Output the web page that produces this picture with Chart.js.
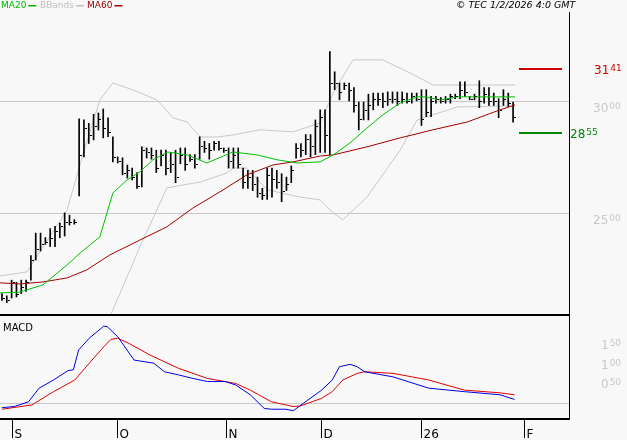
<!DOCTYPE html>
<html>
<head>
<meta charset="utf-8">
<script src="https://cdn.jsdelivr.net/npm/chart.js@4.4.1/dist/chart.umd.min.js"></script>
<style>
  body { margin: 0; background: #f8f8f8; }
  #wrap { position: relative; width: 627px; height: 440px; background: #f8f8f8; }
  canvas { position: absolute; left: 0; }
</style>
</head>
<body>
<div id="wrap">
  <canvas id="price" width="627" height="316" style="top:0"></canvas>
  <canvas id="macd" width="627" height="124" style="top:316px"></canvas>
</div>
<script>
// --- Data ---

// daily high / low / close, one entry per trading day
const highs = [21.4,21.3,22.0,21.9,22.0,22.0,23.1,24.1,24.1,23.9,
  24.3,24.4,24.55,25.0,24.9,24.7,29.2,29.15,29.0,29.4,
  29.46,29.64,29.24,28.4,27.5,27.46,27.14,27.0,26.8,27.95,
  27.9,27.9,27.8,27.8,27.8,27.7,27.8,27.9,27.9,27.6,
  27.6,28.4,28.2,28.1,28.2,28.2,27.9,27.9,27.9,27.9,
  27.0,26.9,26.9,26.6,26.1,27.0,27.0,26.9,26.75,26.6,
  27.1,28.1,28.1,28.5,28.5,29.15,29.6,29.6,32.2,31.3,
  30.8,30.8,30.8,30.6,29.95,29.95,30.3,30.35,30.35,30.35,
  30.4,30.4,30.4,30.4,30.35,30.35,30.35,30.5,30.5,30.2,
  30.2,30.15,30.2,30.3,30.3,30.85,30.85,30.2,30.3,30.9,
  30.6,30.6,30.35,30.1,30.5,30.35,29.95];
const lows = [21.1,21.0,21.2,21.25,21.4,21.5,22.0,22.9,23.3,23.6,
  23.5,23.5,23.9,23.97,24.46,24.5,25.76,27.5,28.1,28.26,
  28.7,28.35,28.4,27.28,27.23,26.7,26.56,26.47,26.1,26.16,
  27.45,27.4,26.8,27.1,26.7,26.8,26.35,27.2,26.9,27.3,
  27.0,27.4,27.7,27.4,27.8,27.8,27.7,27.0,27.0,27.0,
  26.1,26.1,26.0,25.7,25.6,25.6,25.7,26.1,25.5,26.0,
  26.35,27.45,27.5,27.6,27.5,27.6,27.7,27.7,27.6,30.5,
  30.05,30.5,30.0,29.5,28.7,29.15,29.15,29.6,29.8,29.7,
  29.8,29.9,29.8,29.9,29.9,29.9,30.0,28.9,29.3,29.3,
  29.9,29.9,29.9,29.9,30.1,30.1,30.2,30.05,30.05,29.7,
  29.9,29.8,29.8,29.25,29.8,29.75,29.05];
const closes = [21.2,21.1,21.9,21.4,21.7,21.9,22.9,23.4,23.6,23.7,
  23.9,24.2,24.4,24.6,24.6,24.6,27.6,28.8,28.5,28.9,
  29.2,28.8,28.6,27.5,27.3,26.8,26.9,26.6,26.2,27.8,
  27.7,27.6,27.0,27.6,27.0,27.2,26.6,27.6,27.2,27.4,
  27.2,28.0,27.9,27.8,28.1,27.9,27.8,27.3,27.6,27.2,
  26.4,26.6,26.3,25.9,25.8,26.7,26.5,26.4,26.0,26.3,
  26.9,27.9,27.8,28.3,28.0,28.9,29.3,28.5,30.8,30.8,
  30.4,30.7,30.5,29.8,29.2,29.6,29.8,30.1,30.1,30.0,
  30.1,30.1,30.0,30.1,30.0,30.2,30.1,29.2,29.5,30.0,
  30.1,30.0,30.1,30.2,30.2,30.5,30.4,30.1,30.2,30.0,
  30.3,30.0,30.0,29.6,30.1,29.9,29.3];

// indicator lines, sampled as [day index, value]
const ma20 = [[-0.4,21.43],[3.7,21.47],[8.5,21.79],[13.5,22.68],[16.2,23.21],[20.3,23.93],
  [23,25.89],[25.9,26.47],[28.6,26.83],[31.3,27.37],[34.4,27.72],[38.4,27.59],[42.5,27.23],
  [47.9,27.72],[52.9,27.59],[57.1,27.37],[61.2,27.23],[66,27.28],[68.7,27.59],[72.2,28.13],
  [75.7,28.79],[79,29.38],[82.6,29.91],[86.1,30.18],[87.8,30.18],[90.9,30.04],[94.4,30.18],
  [99.8,30.18],[106.4,30.18]];
const ma60 = [[-0.4,21.88],[3.7,21.83],[8.5,21.92],[13.5,22.10],[17.6,22.46],[22.4,23.13],
  [28.6,23.79],[34.2,24.38],[39.6,25.22],[45.2,25.94],[50.8,26.70],[56.2,27.14],[60.4,27.28],
  [66,27.54],[68.7,27.59],[75.7,27.95],[82.6,28.35],[89.4,28.71],[96.5,29.06],[103.3,29.6],
  [106.4,29.82]];
const bbUpper = [[-0.4,22.19],[5.2,22.37],[13.5,25.13],[16.9,27.68],[20.3,30.04],[23,30.80],
  [27.2,30.49],[32.2,30.04],[35.5,29.24],[38.4,29.06],[41.1,28.39],[44.6,28.39],[47.9,28.48],
  [53.5,28.71],[60.4,28.62],[66,29.02],[68.7,30.36],[72.8,31.83],[79,31.83],[84.6,31.25],
  [89.4,30.71],[96.5,30.71],[106.4,30.71]];
const bbLower = [[20.3,19.5],[23,20.67],[28.6,23.48],[34.2,26.12],[41.1,26.38],[46.7,26.79],
  [47.9,27.0],[50.8,27.0],[55,26.03],[61.8,25.71],[66,25.58],[68.7,25.0],[70.7,24.69],
  [75.7,25.71],[82.6,27.81],[86.1,29.15],[89.4,29.38],[94.4,29.73],[106.4,29.78]];

const macdLine = [[0,-0.12],[2.6,-0.09],[5.5,0.03],[7.7,0.38],[10.7,0.59],[13.7,0.83],[14.8,0.85],
  [15.9,1.36],[18.1,1.66],[21.1,1.97],[21.8,1.96],[24.0,1.70],[27.4,1.10],[31.5,1.02],[33.7,0.80],
  [36.6,0.72],[39.6,0.63],[42.6,0.55],[46.3,0.55],[48.5,0.46],[51.5,0.21],[54.4,-0.14],[55.9,-0.16],
  [58.9,-0.16],[60.4,-0.20],[62.6,0],[66.3,0.33],[68.5,0.59],[70,0.93],[72.2,0.99],[73.7,0.93],
  [75.2,0.80],[81.1,0.67],[88.5,0.38],[95.9,0.29],[103.3,0.21],[106.3,0.09]];
const signalLine = [[0,-0.16],[6.2,-0.05],[10.7,0.29],[15.1,0.59],[18.1,1.02],[21.1,1.44],[22.6,1.63],
  [24.0,1.66],[26.3,1.53],[30.7,1.23],[36.6,0.89],[42.6,0.63],[48.5,0.50],[51.5,0.33],[55.9,0.03],
  [60.4,-0.09],[61.8,-0.08],[66.3,0.12],[68.5,0.29],[70.7,0.59],[73.7,0.76],[75.2,0.80],[81.1,0.76],
  [88.5,0.59],[95.9,0.33],[103.3,0.26],[106.3,0.21]];

const priceTicks = [["30","00",30],["25","00",25]];
const macdTicks = [["1","50",1.5],["1","00",1.0],["0","50",0.5]];
const resistance = 31.41;
const support = 28.55;
const monthLabels = ["S","O","N","D","26","F"];
const monthIdx = [2.1,23.9,46.5,66.2,86.9,108.3];

// --- helpers ---
const X_MIN = -0.41, X_MAX = 117.6;
const pts = arr => arr.map(p => ({ x: p[0], y: p[1] }));
const FONT = '"DejaVu Sans", sans-serif';

function splitNum(ctx, big, small, x, y, color) {
    ctx.fillStyle = color;
    ctx.textBaseline = 'alphabetic';
    ctx.font = '12px ' + FONT;
    ctx.fillText(big, x, y);
    const w = ctx.measureText(big).width;
    ctx.font = '9px ' + FONT;
    ctx.fillText(small, x + w + 1, y - 3);
}

const pricePlugin = {
    id: 'pricePlugin',
    beforeDatasetsDraw(chart) {
        const { ctx, chartArea: a, scales: { y } } = chart;
        ctx.save();
        ctx.strokeStyle = '#c8c8c8';
        ctx.lineWidth = 1;
        priceTicks.forEach(t => {
            const py = Math.round(y.getPixelForValue(t[2])) + 0.5;
            ctx.beginPath(); ctx.moveTo(a.left, py); ctx.lineTo(a.right, py); ctx.stroke();
        });
        ctx.restore();
    },
    afterDraw(chart) {
        const { ctx, chartArea: a, scales: { y } } = chart;
        ctx.save();
        // frame
        ctx.strokeStyle = '#000';
        ctx.lineWidth = 1;
        ctx.beginPath(); ctx.moveTo(a.right + 0.5, 12); ctx.lineTo(a.right + 0.5, 316); ctx.stroke();
        ctx.lineWidth = 2;
        ctx.beginPath(); ctx.moveTo(0, a.bottom + 1); ctx.lineTo(a.right, a.bottom + 1); ctx.stroke();

        // price labels
        priceTicks.forEach(t => splitNum(ctx, t[0], t[1], 593, y.getPixelForValue(t[2]) + 11, '#c8c8c8'));

        // resistance / support
        ctx.lineWidth = 2;
        ctx.strokeStyle = '#d00000';
        let py = Math.round(y.getPixelForValue(resistance));
        ctx.beginPath(); ctx.moveTo(519, py); ctx.lineTo(562, py); ctx.stroke();
        splitNum(ctx, '31', '41', 594, py + 5, '#d00000');
        ctx.strokeStyle = '#008800';
        py = Math.round(y.getPixelForValue(support));
        ctx.beginPath(); ctx.moveTo(519, py); ctx.lineTo(562, py); ctx.stroke();
        splitNum(ctx, '28', '55', 570, py + 5, '#008800');

        // legend
        ctx.font = '9px ' + FONT;
        ctx.textBaseline = 'middle';
        const items = [['MA20', '#00bb00', 1], ['BBands', '#c0c0c0', 40], ['MA60', '#a00000', 87]];
        items.forEach(it => {
            ctx.fillStyle = it[1];
            ctx.fillText(it[0], it[2], 6);
            const w = ctx.measureText(it[0]).width;
            ctx.fillRect(it[2] + w + 2, 5, 8, 1.5);
        });
        ctx.fillStyle = '#000';
        ctx.font = 'italic 9.5px ' + FONT;
        ctx.fillText('\u00a9 TEC 1/2/2026 4:0 GMT', 456, 6);
        ctx.restore();
    }
};

const closeTicks = {
    id: 'closeTicks',
    afterDatasetsDraw(chart) {
        const { ctx, scales: { x, y } } = chart;
        ctx.save();
        ctx.fillStyle = '#000';
        closes.forEach((c, i) => {
            ctx.fillRect(Math.round(x.getPixelForValue(i)) + 1, Math.round(y.getPixelForValue(c)), 2, 1);
        });
        ctx.restore();
    }
};

const macdPlugin = {
    id: 'macdPlugin',
    beforeDatasetsDraw(chart) {
        const { ctx, chartArea: a, scales: { y } } = chart;
        ctx.save();
        ctx.strokeStyle = '#c8c8c8';
        ctx.lineWidth = 1;
        const py = Math.round(y.getPixelForValue(0)) + 0.5;
        ctx.beginPath(); ctx.moveTo(a.left, py); ctx.lineTo(a.right, py); ctx.stroke();
        ctx.restore();
    },
    afterDraw(chart) {
        const { ctx, chartArea: a, scales: { x, y } } = chart;
        ctx.save();
        ctx.strokeStyle = '#000';
        ctx.lineWidth = 1;
        ctx.beginPath(); ctx.moveTo(a.right + 0.5, 0); ctx.lineTo(a.right + 0.5, a.bottom + 1); ctx.stroke();
        ctx.lineWidth = 2;
        ctx.beginPath(); ctx.moveTo(0, a.bottom + 1); ctx.lineTo(a.right + 1, a.bottom + 1); ctx.stroke();

        macdTicks.forEach(t => splitNum(ctx, t[0], t[1], 601, y.getPixelForValue(t[2]) + 5, '#c8c8c8'));

        ctx.fillStyle = '#000';
        ctx.font = '10px ' + FONT;
        ctx.textBaseline = 'middle';
        ctx.fillText('MACD', 3, 12);

        ctx.lineWidth = 1;
        ctx.font = '12px ' + FONT;
        ctx.textBaseline = 'alphabetic';
        monthLabels.forEach((m, i) => {
            const px = Math.round(x.getPixelForValue(monthIdx[i])) + 0.5;
            ctx.beginPath(); ctx.moveTo(px, a.bottom + 2); ctx.lineTo(px, a.bottom + 20); ctx.stroke();
            ctx.fillText(m, px + 2, a.bottom + 20);
        });
        ctx.restore();
    }
};

const lineSet = (data, color, order) => ({
    type: 'line', data: pts(data), borderColor: color, borderWidth: 1,
    pointRadius: 0, tension: 0, fill: false, order
});

const hidden = { display: false };

new Chart(document.getElementById('price'), {
    data: {
        datasets: [
            lineSet(bbUpper, '#c8c8c8', 5),
            lineSet(bbLower, '#c8c8c8', 5),
            {
                type: 'bar',
                data: highs.map((h, i) => ({ x: i, y: [lows[i], h] })),
                backgroundColor: '#000',
                barThickness: 1,
                order: 3
            },
            lineSet(ma60, '#a00000', 2),
            lineSet(ma20, '#00c000', 1)
        ]
    },
    options: {
        responsive: false,
        animation: false,
        devicePixelRatio: 1,
        layout: { padding: { left: 0, right: 58, top: 18, bottom: 2 } },
        plugins: { legend: hidden, tooltip: { enabled: false } },
        scales: {
            x: { type: 'linear', min: X_MIN, max: X_MAX, offset: false, display: false },
            y: { type: 'linear', min: 20.49, max: 33.7, display: false }
        }
    },
    plugins: [pricePlugin, closeTicks]
});

new Chart(document.getElementById('macd'), {
    data: {
        datasets: [
            lineSet(signalLine, '#e00000', 2),
            lineSet(macdLine, '#0000e0', 1)
        ]
    },
    options: {
        responsive: false,
        animation: false,
        devicePixelRatio: 1,
        layout: { padding: { left: 0, right: 58, top: 0, bottom: 22 } },
        plugins: { legend: hidden, tooltip: { enabled: false } },
        scales: {
            x: { type: 'linear', min: X_MIN, max: X_MAX, display: false },
            y: { type: 'linear', min: -0.385, max: 2.23, display: false }
        }
    },
    plugins: [macdPlugin]
});
</script>
</body>
</html>
